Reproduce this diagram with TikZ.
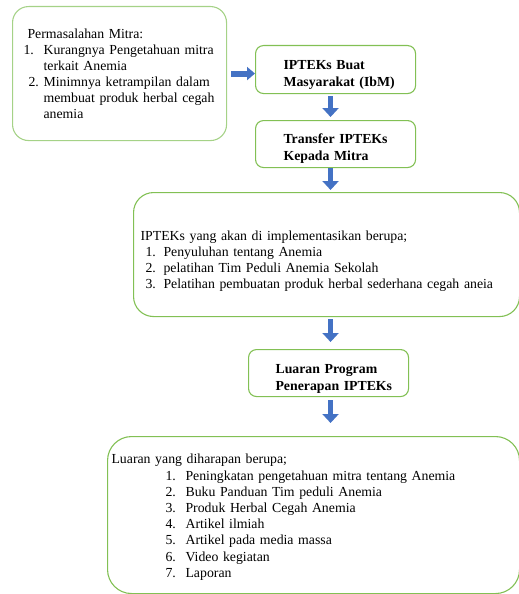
\documentclass[tikz,border=0pt]{standalone}
\usepackage{fontspec}
\setmainfont{Liberation Serif}
\usetikzlibrary{arrows.meta}
\definecolor{boxgreen}{RGB}{130,192,84}
\definecolor{boxgreenlight}{RGB}{165,210,135}
\definecolor{arrowblue}{RGB}{68,114,196}
\newcommand{\numat}[2]{\makebox[#1][l]{#2}}
\tikzset{
  greenbox/.style={draw=boxgreen, line width=1.1pt, rectangle, anchor=north west,
    font=\fontsize{13.8}{16}\selectfont, align=left, inner ysep=0pt},
  boldbox/.style={greenbox, rounded corners=8pt, text width=132pt, inner xsep=14pt,
    font=\fontsize{13.8}{17}\selectfont\bfseries},
  downarrow/.style={draw=arrowblue, line width=5pt, -{Triangle[width=16pt,length=9pt]}},
  rightarrow/.style={draw=arrowblue, line width=6pt, -{Triangle[width=13pt,length=8pt]}},
}
\begin{document}
\begin{tikzpicture}[x=1pt,y=-1pt]
\useasboundingbox (0,0) rectangle (519,594);

\node[greenbox, draw=boxgreenlight, rounded corners=16pt, text width=198pt, inner xsep=8pt,
      minimum height=134pt] (b1) at (12,6)
 {\hspace*{7pt}Permasalahan Mitra:\\
  \numat{23pt}{\hspace{3pt}1.}\makebox[179pt][s]{Kurangnya Pengetahuan mitra}\\
  \hspace*{23pt}terkait Anemia\\
  \numat{23pt}{\hspace{8pt}2.}\makebox[179pt][s]{Minimnya ketrampilan dalam}\\
  \hspace*{23pt}\makebox[179pt][s]{membuat produk herbal cegah}\\
  \hspace*{23pt}anemia};

\node[boldbox, minimum height=48pt] (b2) at (255,45)
 {\rule{0pt}{20pt}\hspace*{14pt}IPTEKs Buat\\\hspace*{14pt}Masyarakat (IbM)};
\node[boldbox, minimum height=47pt] (b3) at (255,120)
 {\rule{0pt}{19pt}\hspace*{14pt}Transfer IPTEKs\\\hspace*{14pt}Kepada Mitra};

\node[greenbox, rounded corners=20pt, text width=372pt, inner xsep=7pt, minimum height=124pt] (b4) at (133,192)
 {\rule{0pt}{23pt}IPTEKs yang akan di implementasikan berupa;\\
  \numat{23pt}{\hspace{5pt}1.}Penyuluhan tentang Anemia\\
  \numat{23pt}{\hspace{5pt}2.}pelatihan Tim Peduli Anemia Sekolah\\
  \numat{23pt}{\hspace{5pt}3.}Pelatihan pembuatan produk herbal sederhana cegah aneia};

\node[boldbox, minimum height=47pt] (b5) at (248,349)
 {\rule{0pt}{20pt}\hspace*{13pt}Luaran Program\\\hspace*{13pt}Penerapan IPTEKs};

\node[greenbox, rounded corners=24pt, text width=404pt, inner xsep=4pt, minimum height=157pt,
      font=\fontsize{13.8}{16.2}\selectfont] (b6) at (107,436)
 {\rule{0pt}{14pt}Luaran yang diharapan berupa;\\
  \numat{74pt}{\hspace{54pt}1.}Peningkatan pengetahuan mitra tentang Anemia\\
  \numat{74pt}{\hspace{54pt}2.}Buku Panduan Tim peduli Anemia\\
  \numat{74pt}{\hspace{54pt}3.}Produk Herbal Cegah Anemia\\
  \numat{74pt}{\hspace{54pt}4.}Artikel ilmiah\\
  \numat{74pt}{\hspace{54pt}5.}Artikel pada media massa\\
  \numat{74pt}{\hspace{54pt}6.}Video kegiatan\\
  \numat{74pt}{\hspace{54pt}7.}Laporan};

\draw[rightarrow, shorten <=4pt] (b1.east) -- (b1.east -| b2.west);
\draw[downarrow, shorten <=2pt, shorten >=3pt] ([xshift=-5pt]b2.south) -- ([xshift=-5pt]b3.north);
\draw[downarrow, shorten <=0pt, shorten >=2pt] ([xshift=-5pt]b3.south) -- ([xshift=-5pt]b3.south |- b4.north);
\draw[downarrow, shorten <=2pt, shorten >=7pt] ([xshift=2pt]b5.north |- b4.south) -- ([xshift=2pt]b5.north);
\draw[downarrow, shorten <=3pt, shorten >=13pt] ([xshift=2pt]b5.south) -- ([xshift=2pt]b5.south |- b6.north);
\end{tikzpicture}
\end{document}
